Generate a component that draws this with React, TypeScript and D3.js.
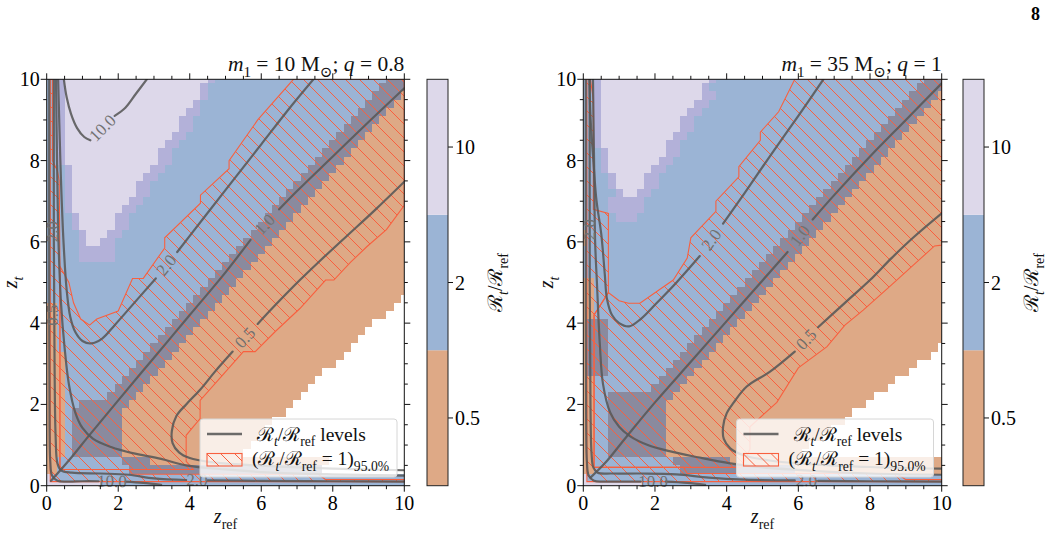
import * as d3 from "d3";
import { useEffect, useRef } from "react";

type Pt = [number, number];
type Part = { t: string; sub?: boolean; it?: boolean };

const FONT = "'Liberation Serif', 'DejaVu Serif', serif";
const RED = "#f8603f";
const LINE = "#585858";

// class letters: o ~0.5, b ~2, l ~10, p = edge of the high bin, d = overlap band, w = no data
const CLASS_COLORS: Record<string, string> = {
  o: "#dea986",
  b: "#9bb4d5",
  l: "#ddd8ea",
  p: "#b3b1d9",
  d: "#8a8a9e",
  w: "#ffffff",
};

const CBAR_TICKS = ["0.5", "2", "10"];
const CBAR_COLORS = ["#dea986", "#9bb4d5", "#ddd8ea"];
const AXIS_TICKS = [0, 2, 4, 6, 8, 10];

// rows from z_t = 10 down to z_t = 0; each token is class + first column
// (51 columns centred on z_ref = 0, 0.2, ..., 10)
const MAP_A: string[] = [
  "b0 p2 l3 p23 b24 d48",
  "b0 p2 l3 p22 b23 d47",
  "b0 p2 l3 p22 b23 d46 o50",
  "b0 p2 l3 p21 b22 d45 o49",
  "b0 p2 l3 p20 b22 d44 o48",
  "b0 p2 l3 p19 b21 d43 o47",
  "b0 p2 l3 p19 b21 d42 o46",
  "b0 p2 l3 p18 b20 d41 o45",
  "b0 p2 l3 p17 b19 d40 o44",
  "b0 p2 l3 p16 b18 d39 o43",
  "b0 p2 l3 p16 b18 d38 o42",
  "b0 p3 l4 p15 b17 d37 o41",
  "b0 p3 l4 p14 b16 d36 o40",
  "b0 p3 l4 p13 b15 d35 o39",
  "b0 p3 l4 p13 b15 d34 o38",
  "b0 p3 l4 p12 b14 d33 o37",
  "b0 p3 l4 p11 b13 d32 o36",
  "b0 p4 l5 p10 b12 d31 o35",
  "b0 p4 l5 p10 b12 d30 o34",
  "b0 p5 l6 p9 b11 d29 o33",
  "b0 p5 l6 p8 b10 d28 o32",
  "b0 p5 b10 d27 o31",
  "b0 p5 b10 d26 o30",
  "b0 d25 o29",
  "b0 d24 o28",
  "b0 d23 o27",
  "b0 d22 o26",
  "b0 d21 o25 w50",
  "o0 b2 d20 o24 w49",
  "o0 b2 d19 o23 w48",
  "o0 b2 d18 o22 w46",
  "o0 b2 d17 o21 w45",
  "o0 b2 d16 o20 w44",
  "o0 b2 d15 o19 w43",
  "o0 b3 d14 o18 w42",
  "o0 b3 d13 o17 w41",
  "o0 b3 d12 o16 w39",
  "o0 b3 d11 o15 w38",
  "o0 b3 d10 o14 w37",
  "o0 b3 d9 o13 w36",
  "o0 b3 d5 o12 w35",
  "o0 b3 d4 o11 w34",
  "o0 b3 d4 o11 w32",
  "o0 b3 d4 o11 w31",
  "o0 b3 d4 o11 w30",
  "o0 b3 d4 o11 w29",
  "o0 b3 d4 o11 w28",
  "o0 b2 d11 o15 w40",
  "o0 b2 d12 w39",
  "l0 b1",
  "l0 b8",
];

const MAP_B: string[] = [
  "b0 p2 l3 p18 b19 d48",
  "b0 p2 l3 p17 b18 d47",
  "b0 p2 l3 p17 b19 d46 o50",
  "b0 p2 l3 p16 b18 d45 o49",
  "b0 p2 l3 p15 b17 d44 o48",
  "b0 p2 l3 p14 b16 d43 o47",
  "b0 p2 l3 p14 b16 d42 o46",
  "b0 p2 l3 p13 b15 d41 o45",
  "b0 p2 l3 p12 b14 d40 o44",
  "b0 p3 l4 p12 b14 d39 o43",
  "b0 p3 l4 p11 b13 d38 o42",
  "b0 p3 l4 p10 b12 d37 o41",
  "b0 p4 l5 p9 b11 d36 o40",
  "b0 p4 l5 p9 b11 d35 o39",
  "b0 p5 l6 p8 b10 d34 o38",
  "b0 p4 b9 d33 o37",
  "b0 p4 b9 d32 o36",
  "b0 p5 b8 d31 o35",
  "b0 d30 o34",
  "o0 b1 d29 o33",
  "o0 b1 d28 o32",
  "b0 d27 o31",
  "b0 d26 o30",
  "b0 d25 o29",
  "b0 d24 o28",
  "o0 b2 d23 o27",
  "o0 b2 d22 o26",
  "o0 b2 d21 o25",
  "o0 b2 d20 o24",
  "o0 b2 d19 o23",
  "o0 d1 b4 d18 o22",
  "o0 d1 b4 d17 o21",
  "o0 d1 b4 d16 o20",
  "o0 d1 b4 d15 o19 w50",
  "o0 d1 b4 d14 o18 w49",
  "o0 d1 b4 d13 o17 w47",
  "o0 d1 b4 d12 o16 w46",
  "o0 b2 d11 o15 w44",
  "o0 b2 d10 o14 w43",
  "o0 b2 d4 o13 w41",
  "o0 b2 d4 o12 w40",
  "o0 b2 d4 o12 w38",
  "o0 b2 d4 o12 w37",
  "o0 b2 d4 o12 w35",
  "o0 b2 d4 o12 w34",
  "o0 b2 d4 o12 w32",
  "o0 b2 d4 o12 w31",
  "o0 b2 d13 o21",
  "o0 b2 d14 o30",
  "l0 b1",
  "l0 b9",
];

// contour lines (already broken where the inline labels sit)
const LINES_A: Pt[][] = [
  [[0.48, 10], [0.56, 9.55], [0.68, 9.15], [0.85, 8.8], [1.05, 8.58], [1.22, 8.5]],
  [[1.9, 9.1], [2.2, 9.3], [2.5, 9.65], [2.8, 10]],
  [[7.46, 10], [6.8, 9.3], [6.0, 8.4], [5.2, 7.5], [4.4, 6.6], [3.65, 5.75]],
  [[3.05, 5.1], [2.4, 4.45], [1.9, 3.95], [1.55, 3.62], [1.25, 3.5], [1.0, 3.56], [0.8, 3.78], [0.66, 4.15], [0.56, 4.8], [0.47, 6.0], [0.4, 7.5], [0.35, 9], [0.32, 10]],
  [[10, 9.78], [9, 8.95], [8, 8.1], [7.0, 7.25], [6.5, 6.8]],
  [[5.7, 6.05], [5, 5.25], [4, 4.2], [3, 3.15], [2, 2.1], [1.2, 1.25], [0.6, 0.6], [0.12, 0.12]],
  [[10, 7.48], [9.2, 6.8], [8.4, 6.15], [7.6, 5.5], [7.08, 5.06], [6.4, 4.45], [5.9, 3.98]],
  [[5.2, 3.3], [4.7, 2.8], [4.29, 2.36], [3.9, 2.0], [3.63, 1.72], [3.5, 1.35], [3.52, 1.05], [3.7, 0.82], [4.0, 0.68], [4.6, 0.58], [5.5, 0.52], [6.5, 0.47], [8, 0.42], [10, 0.38]],
  [[0.26, 10], [0.29, 8], [0.33, 6], [0.4, 4.5], [0.5, 3.4], [0.62, 2.5], [0.8, 1.8], [1.0, 1.42], [1.3, 1.15], [1.8, 0.95], [2.4, 0.8], [3.2, 0.66], [3.9, 0.5], [5, 0.4], [6.15, 0.33], [8, 0.28], [10, 0.25]],
  [[0.2, 10], [0.2, 6], [0.22, 3], [0.25, 1.2], [0.3, 0.55], [0.4, 0.38], [0.7, 0.32], [1.5, 0.3], [2.3, 0.27], [3.0, 0.18], [3.9, 0.14]],
  [[4.5, 0.13], [6, 0.12], [8, 0.11], [10, 0.1]],
  [[0.07, 10], [0.07, 4], [0.08, 1.5], [0.1, 0.6], [0.15, 0.25], [0.3, 0.12], [0.6, 0.1], [1.0, 0.11], [1.45, 0.11]],
  [[2.2, 0.1], [2.7, 0.07], [3.2, 0.02]],
];

const LABELS_A: { text: string; a: Pt; b: Pt }[] = [
  { text: "10.0", a: [1.22, 8.5], b: [1.9, 9.1] },
  { text: "2.0", a: [3.65, 5.75], b: [3.05, 5.1] },
  { text: "1.0", a: [6.5, 6.8], b: [5.7, 6.05] },
  { text: "0.5", a: [5.9, 3.98], b: [5.2, 3.3] },
  { text: "2.0", a: [3.9, 0.14], b: [4.5, 0.13] },
  { text: "10.0", a: [1.45, 0.11], b: [2.2, 0.1] },
  { text: "2.0", a: [0.17, 5.95], b: [0.17, 6.55] },
  { text: "0.5", a: [0.15, 3.9], b: [0.15, 4.5] },
];

const LINES_B: Pt[][] = [
  [[6.7, 10], [6.0, 9.1], [5.2, 8.1], [4.5, 7.2], [3.9, 6.45]],
  [[3.25, 5.65], [2.6, 5.0], [2.0, 4.45], [1.6, 4.1], [1.28, 3.92], [1.0, 4.0], [0.8, 4.2], [0.66, 4.6], [0.6, 5.2], [0.5, 6.2], [0.37, 7.0], [0.28, 8], [0.2, 9.1], [0.17, 10]],
  [[10, 9.9], [9, 9.0], [8, 8.1], [7.0, 7.15], [6.4, 6.55]],
  [[5.7, 5.75], [5, 5.05], [4, 4.05], [3, 3.05], [2, 2.05], [1.2, 1.2], [0.6, 0.55], [0.2, 0.2]],
  [[10, 6.7], [9.2, 6.1], [8.6, 5.6], [8.0, 5.06], [7.3, 4.5], [6.55, 3.9]],
  [[5.9, 3.3], [5.2, 2.8], [4.56, 2.44], [4.2, 2.05], [4.0, 1.78], [3.9, 1.45], [3.92, 1.15], [4.1, 0.92], [4.47, 0.75], [5.2, 0.62], [6.5, 0.52], [8, 0.46], [10, 0.42]],
  [[0.27, 10], [0.3, 8], [0.33, 6], [0.38, 5], [0.46, 3.5], [0.55, 2.5], [0.75, 1.8], [1.0, 1.45], [1.3, 1.22], [1.8, 1.0], [2.4, 0.85], [3.2, 0.7], [4.1, 0.55], [5, 0.45], [6.5, 0.36], [8, 0.3], [10, 0.27]],
  [[0.18, 10], [0.18, 5], [0.2, 2], [0.23, 0.8], [0.28, 0.45], [0.4, 0.32], [0.8, 0.3], [1.6, 0.3], [2.6, 0.28], [3.5, 0.2], [4.5, 0.15], [5.9, 0.13]],
  [[6.55, 0.12], [8, 0.11], [10, 0.1]],
  [[0.07, 10], [0.07, 4], [0.08, 1.5], [0.1, 0.6], [0.15, 0.25], [0.3, 0.12], [0.6, 0.1], [1.1, 0.1], [1.6, 0.1]],
  [[2.3, 0.1], [2.9, 0.07], [3.4, 0.02]],
];

const LABELS_B: { text: string; a: Pt; b: Pt }[] = [
  { text: "2.0", a: [3.9, 6.45], b: [3.25, 5.65] },
  { text: "1.0", a: [6.4, 6.55], b: [5.7, 5.75] },
  { text: "0.5", a: [6.55, 3.9], b: [5.9, 3.3] },
  { text: "2.0", a: [5.9, 0.13], b: [6.55, 0.12] },
  { text: "10.0", a: [1.6, 0.1], b: [2.3, 0.1] },
  { text: "2.0", a: [0.17, 6.0], b: [0.17, 6.6] },
];

// regions where R_t/R_ref = 1 lies inside the 95% interval
const HATCH_A: Pt[][] = [
  [[6.9, 10], [10, 10], [10, 6.9], [9.5, 6.3], [8.95, 5.88], [8.5, 5.5], [8.03, 5.06], [7.8, 5.06], [7.08, 4.36], [6.4, 3.8], [5.83, 3.3], [5.5, 3.3], [4.9, 2.7], [4.29, 2.1], [4.29, 1.65], [3.9, 1.24], [3.9, 0.6], [4.1, 0.4], [0.37, 0.4], [0.37, 5.4], [0.62, 5.0], [0.75, 4.5], [0.95, 4.1], [1.2, 3.95], [1.4, 4.1], [2.0, 4.3], [2.4, 5.1], [2.7, 5.1], [3.3, 5.85], [3.3, 6.1], [4.3, 6.95], [4.3, 7.15], [5.1, 7.8], [5.1, 8.0], [5.9, 9.0]],
  [[0.1, 10], [0.16, 10], [0.16, 8.0], [0.3, 7.75], [0.35, 7.5], [0.37, 5.4], [0.37, 0.4], [2.3, 0.4], [2.4, 0.28], [7.6, 0.28], [7.8, 0.15], [10, 0.15], [10, 0.1], [0.1, 0.1]],
];

const HATCH_B: Pt[][] = [
  [[5.9, 10], [10, 10], [10, 5.92], [9.8, 5.9], [9.3, 5.5], [8.6, 4.94], [7.81, 4.32], [7.3, 3.95], [6.8, 3.42], [6.0, 2.9], [5.4, 2.05], [4.65, 1.45], [4.65, 0.9], [4.4, 0.45], [0.3, 0.45], [0.3, 4.2], [0.7, 4.75], [1.0, 4.55], [1.26, 4.49], [1.58, 4.49], [2.51, 5.06], [2.9, 5.6], [3.0, 6.1], [3.7, 6.75], [3.7, 7.0], [4.34, 7.6], [4.34, 7.85], [4.94, 8.5], [4.94, 8.7], [5.45, 9.2]],
  [[0.1, 10], [0.2, 10], [0.28, 9.5], [0.28, 6.8], [0.7, 6.7], [0.7, 4.75], [0.3, 4.2], [0.3, 0.45], [2.8, 0.45], [2.9, 0.3], [8.75, 0.3], [9.0, 0.15], [10, 0.15], [10, 0.1], [0.1, 0.1]],
];

const Y_TOP = 79.3;
const Y_BOT = 485.7;

type PanelCfg = {
  x0: number;
  x1: number;
  cbarX: number;
  map: string[];
  lines: Pt[][];
  labels: { text: string; a: Pt; b: Pt }[];
  hatch: Pt[][];
  title: Part[];
  legendX: number;
};

const PANELS: PanelCfg[] = [
  {
    x0: 46.7, x1: 404.3, cbarX: 427, map: MAP_A, lines: LINES_A, labels: LABELS_A, hatch: HATCH_A,
    title: [{ t: "m", it: true }, { t: "1", sub: true }, { t: " = 10 M" }, { t: "⊙", sub: true }, { t: "; " }, { t: "q", it: true }, { t: " = 0.8" }],
    legendX: 200,
  },
  {
    x0: 583.3, x1: 941.7, cbarX: 963, map: MAP_B, lines: LINES_B, labels: LABELS_B, hatch: HATCH_B,
    title: [{ t: "m", it: true }, { t: "1", sub: true }, { t: " = 35 M" }, { t: "⊙", sub: true }, { t: "; " }, { t: "q", it: true }, { t: " = 1" }],
    legendX: 736.5,
  },
];

function runs(row: string) {
  const toks = row.trim().split(/\s+/).map((t) => ({ c: t[0], s: +t.slice(1) }));
  return toks.map((t, k) => ({ c: t.c, from: t.s, to: k + 1 < toks.length ? toks[k + 1].s - 1 : 50 }));
}

function rich(
  g: d3.Selection<any, unknown, null, undefined>,
  x: number,
  y: number,
  parts: Part[],
  size: number,
  anchor = "start"
) {
  const t = g
    .append("text")
    .attr("x", x)
    .attr("y", y)
    .attr("font-size", size)
    .attr("text-anchor", anchor)
    .attr("font-family", FONT)
    .attr("fill", "#111");
  let shift = 0;
  parts.forEach((p) => {
    const target = p.sub ? size * 0.3 : 0;
    const ts = t.append("tspan").attr("dy", target - shift).text(p.t);
    shift = target;
    if (p.sub) ts.attr("font-size", size * 0.7);
    if (p.it) ts.attr("font-style", "italic");
  });
  return t;
}

function drawPanel(svg: d3.Selection<SVGSVGElement, unknown, null, undefined>, cfg: PanelCfg, idx: number) {
  const x = d3.scaleLinear().domain([0, 10]).range([cfg.x0, cfg.x1]);
  const y = d3.scaleLinear().domain([0, 10]).range([Y_BOT, Y_TOP]);
  const step = 0.2;
  const edge = (c: number, side: number) => Math.min(10, Math.max(0, c * step + (side * step) / 2));

  const clipId = `plotclip${idx}`;
  svg
    .select("defs")
    .append("clipPath")
    .attr("id", clipId)
    .append("rect")
    .attr("x", cfg.x0)
    .attr("y", Y_TOP)
    .attr("width", cfg.x1 - cfg.x0)
    .attr("height", Y_BOT - Y_TOP);

  const g = svg.append("g").attr("clip-path", `url(#${clipId})`);

  // binned ratio map
  const cells = g.append("g").attr("shape-rendering", "crispEdges");
  cfg.map.forEach((row, i) => {
    const j = 50 - i;
    const yt = y(edge(j, 1));
    const yb = y(edge(j, -1));
    runs(row).forEach((r) => {
      const xl = x(edge(r.from, -1));
      const xr = x(edge(r.to, 1));
      cells
        .append("rect")
        .attr("x", xl)
        .attr("y", yt)
        .attr("width", xr - xl)
        .attr("height", yb - yt)
        .attr("fill", CLASS_COLORS[r.c]);
    });
  });

  // hatched confidence region
  const poly = d3
    .line<Pt>()
    .x((d) => x(d[0]))
    .y((d) => y(d[1]));
  g.selectAll("path.hatch")
    .data(cfg.hatch)
    .join("path")
    .attr("class", "hatch")
    .attr("d", (d) => poly(d) + "Z")
    .attr("fill", "url(#hatch)")
    .attr("stroke", RED)
    .attr("stroke-width", 1.1);

  // ratio contour levels
  const curve = d3
    .line<Pt>()
    .x((d) => x(d[0]))
    .y((d) => y(d[1]))
    .curve(d3.curveCatmullRom.alpha(0.5));
  g.selectAll("path.level")
    .data(cfg.lines)
    .join("path")
    .attr("class", "level")
    .attr("d", (d) => curve(d))
    .attr("fill", "none")
    .attr("stroke", LINE)
    .attr("stroke-opacity", 0.88)
    .attr("stroke-width", 2.2)
    .attr("stroke-linecap", "round");

  cfg.labels.forEach((lb) => {
    const ax = x(lb.a[0]), ay = y(lb.a[1]);
    const bx = x(lb.b[0]), by = y(lb.b[1]);
    let ang = (Math.atan2(by - ay, bx - ax) * 180) / Math.PI;
    if (ang > 90) ang -= 180;
    if (ang < -90) ang += 180;
    svg
      .append("text")
      .attr("transform", `translate(${(ax + bx) / 2},${(ay + by) / 2}) rotate(${ang})`)
      .attr("text-anchor", "middle")
      .attr("dominant-baseline", "central")
      .attr("font-family", FONT)
      .attr("font-size", 17)
      .attr("fill", "#717171")
      .text(lb.text);
  });

  // frame and ticks
  const ax = svg.append("g").attr("stroke", "#111").attr("stroke-width", 1);
  ax.append("rect")
    .attr("x", cfg.x0)
    .attr("y", Y_TOP)
    .attr("width", cfg.x1 - cfg.x0)
    .attr("height", Y_BOT - Y_TOP)
    .attr("fill", "none");
  d3.range(0, 10.001, 0.5).forEach((v) => {
    const len = v % 2 === 0 ? 6 : 3.5;
    ax.append("line").attr("x1", x(v)).attr("x2", x(v)).attr("y1", Y_BOT).attr("y2", Y_BOT + len);
    ax.append("line").attr("x1", x(v)).attr("x2", x(v)).attr("y1", Y_TOP).attr("y2", Y_TOP - len);
    ax.append("line").attr("y1", y(v)).attr("y2", y(v)).attr("x1", cfg.x0).attr("x2", cfg.x0 - len);
    ax.append("line").attr("y1", y(v)).attr("y2", y(v)).attr("x1", cfg.x1).attr("x2", cfg.x1 + len);
  });
  AXIS_TICKS.forEach((v) => {
    svg
      .append("text")
      .attr("x", x(v))
      .attr("y", 510)
      .attr("text-anchor", "middle")
      .attr("font-family", FONT)
      .attr("font-size", 20)
      .text(String(v));
    svg
      .append("text")
      .attr("x", cfg.x0 - 7)
      .attr("y", y(v) + 7)
      .attr("text-anchor", "end")
      .attr("font-family", FONT)
      .attr("font-size", 20)
      .text(String(v));
  });

  // axis labels and title
  rich(svg, (cfg.x0 + cfg.x1) / 2, 523, [{ t: "z", it: true }, { t: "ref", sub: true }], 20, "middle");
  rich(svg, 0, 0, [{ t: "z", it: true }, { t: "t", sub: true, it: true }], 20, "middle").attr(
    "transform",
    `translate(${cfg.x0 - 30},${(Y_TOP + Y_BOT) / 2}) rotate(-90)`
  );
  rich(svg, cfg.x1, 71, cfg.title, 21.5, "end");

  // discrete colour bar, one equal-height cell per bin
  const cb = d3
    .scaleBand<string>()
    .domain([...CBAR_TICKS].reverse())
    .range([Y_TOP, Y_BOT]);
  const cbw = 21;
  CBAR_TICKS.forEach((t, k) => {
    svg
      .append("rect")
      .attr("x", cfg.cbarX)
      .attr("y", cb(t)!)
      .attr("width", cbw)
      .attr("height", cb.bandwidth())
      .attr("fill", CBAR_COLORS[k]);
  });
  CBAR_TICKS.forEach((t) => {
    const yc = cb(t)! + cb.bandwidth() / 2;
    svg
      .append("line")
      .attr("x1", cfg.cbarX + cbw)
      .attr("x2", cfg.cbarX + cbw + 5)
      .attr("y1", yc)
      .attr("y2", yc)
      .attr("stroke", "#111");
    svg
      .append("text")
      .attr("x", cfg.cbarX + cbw + 7)
      .attr("y", yc + 7)
      .attr("font-family", FONT)
      .attr("font-size", 20)
      .text(t);
  });
  svg
    .append("rect")
    .attr("x", cfg.cbarX)
    .attr("y", Y_TOP)
    .attr("width", cbw)
    .attr("height", Y_BOT - Y_TOP)
    .attr("fill", "none")
    .attr("stroke", "#222")
    .attr("stroke-width", 1);
  rich(
    svg,
    0,
    0,
    [{ t: "ℛ" }, { t: "t", sub: true, it: true }, { t: "/ℛ" }, { t: "ref", sub: true }],
    20,
    "middle"
  ).attr("transform", `translate(${cfg.cbarX + 75},${(Y_TOP + Y_BOT) / 2}) rotate(-90)`);

  // legend
  const lg = svg.append("g").attr("transform", `translate(${cfg.legendX},419)`);
  lg.append("rect")
    .attr("width", 197)
    .attr("height", 58)
    .attr("rx", 3)
    .attr("fill", "#fff")
    .attr("fill-opacity", 0.8)
    .attr("stroke", "#d6d6d6")
    .attr("stroke-width", 1);
  lg.append("line")
    .attr("x1", 7)
    .attr("x2", 42)
    .attr("y1", 15)
    .attr("y2", 15)
    .attr("stroke", LINE)
    .attr("stroke-opacity", 0.88)
    .attr("stroke-width", 2.3);
  lg.append("rect")
    .attr("x", 7)
    .attr("y", 34.5)
    .attr("width", 35)
    .attr("height", 12.5)
    .attr("fill", "url(#hatch)")
    .attr("stroke", RED)
    .attr("stroke-width", 1.1);
  rich(lg, 57, 21.5, [{ t: "ℛ" }, { t: "t", sub: true, it: true }, { t: "/ℛ" }, { t: "ref", sub: true }, { t: " levels" }], 19.5);
  rich(
    lg,
    52,
    46,
    [{ t: "(ℛ" }, { t: "t", sub: true, it: true }, { t: "/ℛ" }, { t: "ref", sub: true }, { t: " = 1)" }, { t: "95.0%", sub: true }],
    19.5
  );
}

function RatioMaps() {
  const ref = useRef<SVGSVGElement>(null);

  useEffect(() => {
    if (!ref.current) return;
    const svg = d3.select(ref.current);
    svg.selectAll("*").remove();

    const defs = svg.append("defs");
    const pat = defs
      .append("pattern")
      .attr("id", "hatch")
      .attr("patternUnits", "userSpaceOnUse")
      .attr("width", 14)
      .attr("height", 14);
    pat.append("path")
      .attr("d", "M0,0L14,14M-2,12L2,16M12,-2L16,2")
      .attr("stroke", RED)
      .attr("stroke-width", 1);

    svg.append("rect").attr("width", 1046).attr("height", 537).attr("fill", "#fff");

    PANELS.forEach((p, i) => drawPanel(svg, p, i));

    svg
      .append("text")
      .attr("x", 1040)
      .attr("y", 20)
      .attr("text-anchor", "end")
      .attr("font-family", FONT)
      .attr("font-weight", "bold")
      .attr("font-size", 18)
      .text("8");
  }, []);

  return <svg ref={ref} width={1046} height={537} style={{ position: "absolute", left: 0, top: 0 }} />;
}

export default function App() {
  return <RatioMaps />;
}
